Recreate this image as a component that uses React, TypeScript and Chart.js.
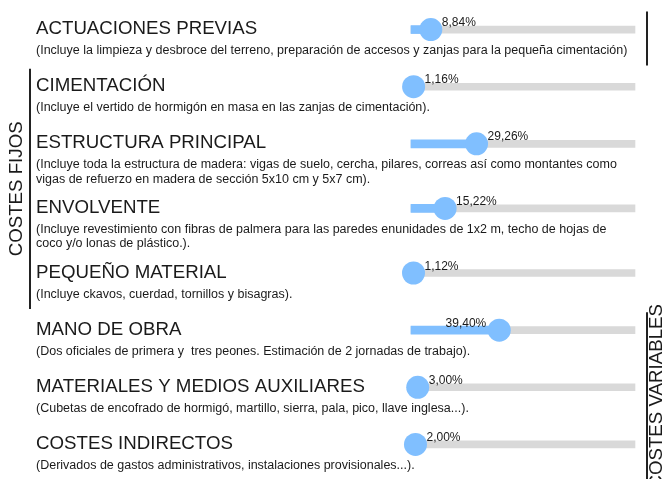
import { useEffect, useRef } from 'react';
import { Chart, registerables } from 'chart.js';

Chart.register(...registerables);

const HEADINGS = [
  'ACTUACIONES PREVIAS',
  'CIMENTACIÓN',
  'ESTRUCTURA PRINCIPAL',
  'ENVOLVENTE',
  'PEQUEÑO MATERIAL',
  'MANO DE OBRA',
  'MATERIALES Y MEDIOS AUXILIARES',
  'COSTES INDIRECTOS',
];

const DESCRIPTIONS: string[][] = [
  ['(Incluye la limpieza y desbroce del terreno, preparación de accesos y zanjas para la pequeña cimentación)'],
  ['(Incluye el vertido de hormigón en masa en las zanjas de cimentación).'],
  [
    '(Incluye toda la estructura de madera: vigas de suelo, cercha, pilares, correas así como montantes como',
    'vigas de refuerzo en madera de sección 5x10 cm y 5x7 cm).',
  ],
  [
    '(Incluye revestimiento con fibras de palmera para las paredes enunidades de 1x2 m, techo de hojas de',
    'coco y/o lonas de plástico.).',
  ],
  ['(Incluye ckavos, cuerdad, tornillos y bisagras).'],
  ['(Dos oficiales de primera y  tres peones. Estimación de 2 jornadas de trabajo).'],
  ['(Cubetas de encofrado de hormigó, martillo, sierra, pala, pico, llave inglesa...).'],
  ['(Derivados de gastos administrativos, instalaciones provisionales...).'],
];

// Share of the total budget, in percent
const SHARES = [8.84, 1.16, 29.26, 15.22, 1.12, 39.4, 3.0, 2.0];
const SCALE_MAX = 100;

const GROUP_NAMES = ['', 'COSTES FIJOS', 'COSTES VARIABLES'];
const GROUP_FIRST = [0, 1, 5];
const GROUP_LAST = [0, 4, 7];
const GROUP_SIDES = ['right', 'left', 'right'];

const FONT = '"Liberation Sans", Arial, Helvetica, sans-serif';
const BLUE = '#80bfff';
const TRACK = '#d9d9d9';
const INK = '#1a1a1a';

// Each row steps down one unit; every extra line of description adds a little room.
const EXTRA_LINE_STEP = 0.13;
const rowPositions: number[] = (() => {
  let extra = 0;
  return DESCRIPTIONS.map((lines, i) => {
    const p = i + extra;
    extra += (lines.length - 1) * EXTRA_LINE_STEP;
    return p;
  });
})();

// Labels sit to the right of the knob, except for long bars
const LABEL_FLIP_AT = 35;

const formatShare = (v: number) => v.toFixed(2).replace('.', ',') + '%';

const rowTextPlugin = {
  id: 'rowText',
  afterDatasetsDraw(chart: any) {
    const { ctx, scales } = chart;
    const xs = scales.x;
    const ys = scales.y;
    ctx.save();
    ctx.fillStyle = INK;
    ctx.textAlign = 'left';
    ctx.textBaseline = 'alphabetic';

    HEADINGS.forEach((title, i) => {
      const y = ys.getPixelForValue(rowPositions[i]);
      ctx.font = `18.7px ${FONT}`;
      ctx.fillText(title, 36, y + 4.5);
      ctx.font = `12.5px ${FONT}`;
      DESCRIPTIONS[i].forEach((line, j) => {
        ctx.fillText(line, 36, y + 24.5 + j * 14.3);
      });

      // value label next to the knob
      const cx = xs.getPixelForValue(SHARES[i]);
      ctx.font = `12px ${FONT}`;
      if (SHARES[i] >= LABEL_FLIP_AT) {
        ctx.textAlign = 'right';
        ctx.fillText(formatShare(SHARES[i]), cx - 13, y - 3.5);
      } else {
        ctx.textAlign = 'left';
        ctx.fillText(formatShare(SHARES[i]), cx + 11, y - 3.5);
      }
      ctx.textAlign = 'left';
    });

    // group brackets with vertical captions
    ctx.strokeStyle = '#222';
    ctx.lineWidth = 2;
    GROUP_NAMES.forEach((name, g) => {
      const top = ys.getPixelForValue(rowPositions[GROUP_FIRST[g]]) - 18;
      const bottom = ys.getPixelForValue(rowPositions[GROUP_LAST[g]]) + 36;
      const lineX = GROUP_SIDES[g] === 'left' ? 30 : 647;
      ctx.beginPath();
      ctx.moveTo(lineX, top);
      ctx.lineTo(lineX, bottom);
      ctx.stroke();
      if (name) {
        const baseX = GROUP_SIDES[g] === 'left' ? lineX - 8 : lineX + 15;
        ctx.save();
        ctx.translate(baseX, (top + bottom) / 2);
        ctx.rotate(-Math.PI / 2);
        ctx.font = `18.7px ${FONT}`;
        ctx.textAlign = 'center';
        ctx.fillText(name, 0, 0);
        ctx.restore();
      }
    });
    ctx.restore();
  },
};

export default function App() {
  const canvasRef = useRef<HTMLCanvasElement | null>(null);

  useEffect(() => {
    const canvas = canvasRef.current;
    if (!canvas) return;
    const points = SHARES.map((v, i) => ({ x: v, y: rowPositions[i] }));
    const chart = new Chart(canvas, {
      type: 'bar',
      data: {
        datasets: [
          {
            type: 'line',
            data: points,
            showLine: false,
            pointRadius: 11.5,
            pointHoverRadius: 11.5,
            pointBackgroundColor: BLUE,
            pointBorderWidth: 0,
            order: 1,
            clip: false,
          } as any,
          {
            type: 'bar',
            data: points,
            backgroundColor: BLUE,
            barThickness: 8,
            grouped: false,
            order: 2,
            clip: false,
          } as any,
          {
            type: 'bar',
            data: SHARES.map((_, i) => ({ x: SCALE_MAX, y: rowPositions[i] })),
            backgroundColor: TRACK,
            barThickness: 7,
            grouped: false,
            order: 3,
            clip: false,
          } as any,
        ],
      },
      options: {
        indexAxis: 'y',
        responsive: false,
        animation: false,
        events: [],
        layout: { autoPadding: false, padding: { left: 411, right: 35, top: 1, bottom: 6 } },
        scales: {
          x: { type: 'linear', min: 0, max: SCALE_MAX, display: false },
          y: {
            type: 'linear',
            reverse: true,
            offset: false,
            min: -0.5,
            max: rowPositions[rowPositions.length - 1] + 0.5,
            display: false,
          },
        },
        plugins: { legend: { display: false }, tooltip: { enabled: false } },
      } as any,
      plugins: [rowTextPlugin],
    });
    return () => chart.destroy();
  }, []);

  return (
    <div style={{ position: 'fixed', left: 0, top: 0, width: 670, height: 479, background: '#fff' }}>
      <canvas ref={canvasRef} width={670} height={479} />
    </div>
  );
}
